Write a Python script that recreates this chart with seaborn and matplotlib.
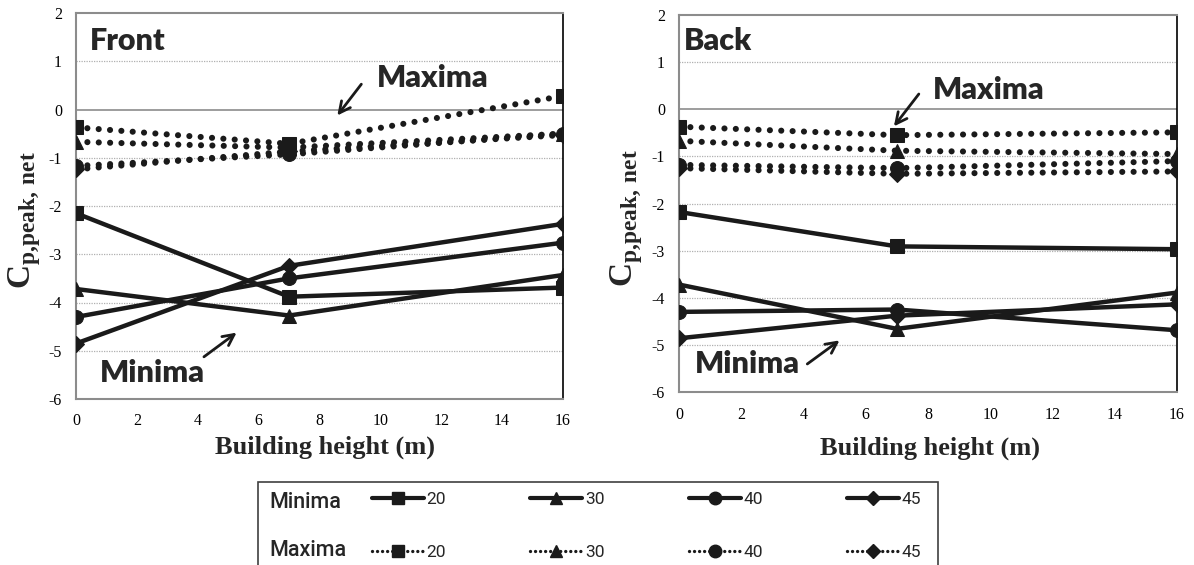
import numpy as np
import pandas as pd
import seaborn as sns
import matplotlib.pyplot as plt
from matplotlib.lines import Line2D
from matplotlib.patches import Rectangle

# data
heights = [0, 7, 16]
angles = ['20', '30', '40', '45']
markers = ['s', '^', 'o', 'D']

front_min = [[-2.15, -3.88, -3.69],
             [-3.72, -4.27, -3.43],
             [-4.30, -3.50, -2.76],
             [-4.85, -3.24, -2.37]]
front_max = [[-0.37, -0.71, 0.28],
             [-0.67, -0.79, -0.50],
             [-1.17, -0.93, -0.50],
             [-1.24, -0.87, -0.53]]
back_min = [[-2.18, -2.91, -2.97],
            [-3.72, -4.66, -3.89],
            [-4.30, -4.25, -4.69],
            [-4.86, -4.38, -4.14]]
back_max = [[-0.37, -0.55, -0.49],
            [-0.67, -0.88, -0.95],
            [-1.18, -1.25, -1.10],
            [-1.25, -1.37, -1.32]]

sns.set_theme(style='white')
plt.rcParams['font.family'] = ['Liberation Serif', 'DejaVu Serif']
plt.rcParams['mathtext.fontset'] = 'custom'
plt.rcParams['mathtext.rm'] = 'Liberation Serif:bold'
plt.rcParams['mathtext.bf'] = 'Liberation Serif:bold'
plt.rcParams['axes.unicode_minus'] = False

W, H = 1194, 565
fig = plt.figure(figsize=(W / 100, H / 100), dpi=100)


def px_axes(l, t, r, b):
    return fig.add_axes([l / W, 1 - b / H, (r - l) / W, (b - t) / H])


ax1 = px_axes(76, 13, 563, 399)
ax2 = px_axes(679, 15, 1177, 392)

dot = (0, (0.01, 1.85))
msize = {'s': 10, '^': 10, 'o': 10, 'D': 8}


def draw_panel(ax, mins, maxs):
    for i, m in enumerate(markers):
        sns.lineplot(x=heights, y=maxs[i], ax=ax, color='k', linestyle=dot,
                     linewidth=4.4, marker=m, markersize=msize[m], markeredgecolor='k',
                     dash_capstyle='round', zorder=3)
        sns.lineplot(x=heights, y=mins[i], ax=ax, color='k', linewidth=3.2,
                     marker=m, markersize=msize[m], markeredgecolor='k', zorder=3)
    ax.set_xlim(0, 16)
    ax.set_ylim(-6, 2)
    ax.set_xticks(range(0, 17, 2))
    ax.set_yticks(range(-6, 3))
    for y in range(-5, 2):
        if y == 0:
            ax.axhline(0, color='#8c8c8c', lw=1.2, zorder=1)
        else:
            ax.axhline(y, color='#b0b0b0', lw=0.9, ls=(0, (1, 1)), zorder=1)
    for side in ['left', 'bottom', 'top']:
        ax.spines[side].set_color('#8c8c8c')
        ax.spines[side].set_linewidth(1.5)
    ax.spines['right'].set_color('black')
    ax.spines['right'].set_linewidth(1.2)
    ax.tick_params(length=0, labelsize=11.5, colors='black')
    ax.set_xlabel('Building height (m)', fontsize=19, fontweight='bold')
    ax.set_ylabel(r'C$_{\mathbf{p{,}peak{,}\ net}}$', fontsize=24, fontweight='bold')


draw_panel(ax1, front_min, front_max)
draw_panel(ax2, back_min, back_max)
ax1.tick_params(axis='y', pad=10)
ax1.tick_params(axis='x', pad=10)
ax2.tick_params(axis='y', pad=10)
ax2.tick_params(axis='x', pad=11)
ax1.xaxis.set_label_coords(0.511, -0.096)
ax2.xaxis.set_label_coords(0.504, -0.117)
ax1.yaxis.set_label_coords(-0.068, 0.464)
ax2.yaxis.set_label_coords(-0.068, 0.46)

sans = ['Lato', 'DejaVu Sans']
ann = dict(fontsize=22, fontweight='heavy', family=sans, va='center', ha='left')
arrow = dict(arrowstyle='->', color='k', lw=2, mutation_scale=20)

ax1.text(0.44, 1.41, 'Front', **ann)
ax1.text(9.87, 0.66, 'Maxima', **ann)
ax1.annotate('', xy=(8.53, -0.17), xytext=(9.43, 0.57), arrowprops=arrow)
ax1.text(0.78, -5.47, 'Minima', **ann)
ax1.annotate('', xy=(5.35, -4.59), xytext=(4.13, -5.16), arrowprops=arrow)

ax2.text(0.16, 1.44, 'Back', **ann)
ax2.text(8.16, 0.41, 'Maxima', **ann)
ax2.annotate('', xy=(6.85, -0.41), xytext=(7.76, 0.37), arrowprops=arrow)
ax2.text(0.52, -5.41, 'Minima', **ann)
ax2.annotate('', xy=(5.23, -4.87), xytext=(4.05, -5.44), arrowprops=arrow)

# legend box at the bottom (cut off by the figure edge, as in the original)
fig.add_artist(Rectangle((258 / W, -0.1), 680 / W, 0.1 + (H - 482) / H,
                         transform=fig.transFigure, facecolor='white',
                         edgecolor='#404040', lw=1.2, zorder=0))
narrow = ['Roboto', 'DejaVu Sans']
fig.text(269 / W, (H - 502) / H, 'Minima', family=narrow, fontsize=15.5,
         fontweight='medium', va='center', ha='left')
fig.text(269 / W, (H - 550) / H, 'Maxima', family=narrow, fontsize=15.5,
         fontweight='medium', va='center', ha='left')

handles, labels = [], []
for ang, m in zip(angles, markers):
    handles.append(Line2D([], [], color='k', lw=3, marker=m, markersize=msize[m] - 1))
    labels.append(ang)
    handles.append(Line2D([], [], color='k', lw=2.4, ls=(0, (0.01, 1.5)),
                          dash_capstyle='round', marker=m, markersize=msize[m] - 1))
    labels.append(ang)
fig.legend(handles, labels, ncol=4, frameon=False, loc='upper left',
           bbox_to_anchor=(372 / W, (H - 492) / H), borderpad=0, borderaxespad=0,
           handlelength=3.0, handletextpad=0.15, columnspacing=4.85,
           labelspacing=2.15, prop={'family': narrow, 'size': 12.5})

fig.savefig('out.png', dpi=100)
